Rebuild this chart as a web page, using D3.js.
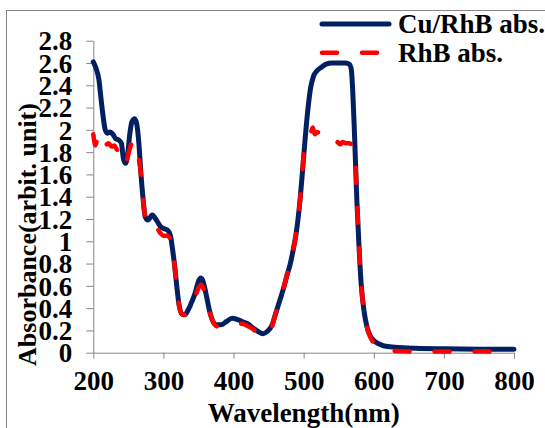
<!DOCTYPE html>
<html>
<head>
<meta charset="utf-8">
<script src="https://cdn.jsdelivr.net/npm/d3@7/dist/d3.min.js"></script>
<style>
  html, body { margin: 0; padding: 0; background: #fff; }
  svg { display: block; }
  text { font-family: "Liberation Serif", "Times New Roman", serif; font-weight: bold; fill: #000; }
</style>
</head>
<body>
<svg id="chart" width="545" height="428"></svg>
<script>
// ---- data ----
const seriesNames = ["Cu/RhB abs.", "RhB abs."];
const xTicks = [200, 300, 400, 500, 600, 700, 800];
const yTicks = [0, 0.2, 0.4, 0.6, 0.8, 1, 1.2, 1.4, 1.6, 1.8, 2, 2.2, 2.4, 2.6, 2.8];
const yTickLabels = ["0", "0.2", "0.4", "0.6", "0.8", "1", "1.2", "1.4", "1.6", "1.8", "2", "2.2", "2.4", "2.6", "2.8"];
const xLabel = "Wavelength(nm)";
const yLabel = "Absorbance(arbit. unit)";

const cuWavelength = [200, 204, 208, 211, 214, 217, 220, 224, 228, 232, 236, 240, 243, 246, 249, 252, 255, 259, 262, 265, 268, 271, 274, 278, 284, 290, 296, 302, 306, 310, 313, 316, 319, 322, 326, 330, 335, 340, 345, 350, 353, 356, 359, 362, 366, 370, 375, 382, 390, 398, 405, 412, 420, 428, 435, 442, 448, 455, 460, 466, 471, 476, 481, 485, 489, 492, 495, 498, 502, 506, 510, 514, 519, 525, 532, 540, 550, 560, 565, 568, 570, 572, 574, 576, 579, 582, 586, 590, 595, 600, 607, 615, 630, 660, 700, 750, 800];
const cuAbs = [2.61, 2.55, 2.45, 2.28, 2.12, 2.00, 1.97, 1.98, 1.96, 1.92, 1.91, 1.88, 1.74, 1.70, 1.78, 1.96, 2.07, 2.10, 2.05, 1.88, 1.60, 1.38, 1.22, 1.19, 1.235, 1.19, 1.13, 1.11, 1.10, 1.05, 0.93, 0.78, 0.60, 0.44, 0.35, 0.34, 0.38, 0.45, 0.53, 0.64, 0.67, 0.65, 0.58, 0.49, 0.37, 0.29, 0.25, 0.25, 0.28, 0.31, 0.30, 0.28, 0.26, 0.22, 0.19, 0.17, 0.19, 0.25, 0.35, 0.47, 0.57, 0.69, 0.80, 0.92, 1.06, 1.20, 1.38, 1.60, 1.91, 2.18, 2.38, 2.48, 2.53, 2.56, 2.59, 2.60, 2.60, 2.60, 2.59, 2.54, 2.35, 2.05, 1.70, 1.35, 0.95, 0.62, 0.38, 0.24, 0.15, 0.11, 0.08, 0.06, 0.05, 0.04, 0.035, 0.032, 0.03];

const rhbWavelength = [200, 203, 206, 210, 214, 218, 222, 226, 230, 234, 238, 242, 246, 250, 254, 258, 262, 265, 268, 271, 274, 278, 283, 290, 296, 300, 305, 310, 313, 316, 319, 322, 326, 330, 335, 340, 345, 350, 354, 358, 362, 366, 370, 375, 382, 390, 398, 405, 412, 420, 428, 435, 442, 448, 454, 460, 466, 471, 476, 481, 485, 489, 492, 495, 498, 500, 503, 507, 510, 513, 516, 519, 523, 527, 531, 536, 540, 544, 548, 552, 556, 560, 565, 569, 572, 574, 576, 579, 582, 586, 590, 595, 600, 607, 615, 630, 660, 700, 750, 800];
const rhbAbs = [1.96, 1.86, 1.92, 1.84, 1.81, 1.86, 1.88, 1.85, 1.86, 1.82, 1.84, 1.75, 1.70, 1.78, 1.87, 1.90, 1.86, 1.74, 1.60, 1.38, 1.22, 1.18, 1.20, 1.13, 1.07, 1.05, 1.05, 1.02, 0.93, 0.78, 0.60, 0.44, 0.35, 0.34, 0.37, 0.43, 0.50, 0.58, 0.61, 0.56, 0.47, 0.36, 0.29, 0.24, 0.23, 0.24, 0.26, 0.26, 0.26, 0.24, 0.21, 0.17, 0.15, 0.17, 0.22, 0.35, 0.47, 0.57, 0.69, 0.80, 0.92, 1.06, 1.20, 1.38, 1.60, 1.78, 1.90, 1.95, 1.97, 2.02, 1.96, 1.98, 1.96, 1.92, 1.91, 1.89, 1.90, 1.88, 1.89, 1.87, 1.89, 1.88, 1.88, 1.86, 1.80, 1.68, 1.38, 0.95, 0.62, 0.38, 0.24, 0.14, 0.09, 0.05, 0.03, 0.015, 0.01, 0.01, 0.01, 0.01];

// ---- layout ----
const svg = d3.select("#chart");
const plot = { left: 93.3, right: 514, top: 40.7, bottom: 352.7 };
const axisColor = "#878787";
const navy = "#002060";
const red = "#ff0000";
const fontSize = "27px";

const x = d3.scaleLinear().domain([200, 800]).range([plot.left, plot.right]);
const y = d3.scaleLinear().domain([0, 2.8]).range([plot.bottom, plot.top]);

// outer frame
svg.append("rect")
  .attr("x", 6.5).attr("y", 10.5)
  .attr("width", 600).attr("height", 500)
  .attr("fill", "none").attr("stroke", axisColor).attr("stroke-width", 1);

// y axis
const yAxis = svg.append("g")
  .attr("transform", `translate(${plot.left},0)`)
  .call(d3.axisLeft(y).tickValues(yTicks).tickSize(7).tickSizeOuter(0)
    .tickFormat((d, i) => yTickLabels[i]));
yAxis.select(".domain").attr("stroke", axisColor);
yAxis.selectAll(".tick line").attr("stroke", axisColor);
yAxis.selectAll(".tick text")
  .attr("x", -21).attr("dy", "0.34em")
  .style("font-family", '"Liberation Serif", serif').style("font-weight", "bold")
  .style("font-size", fontSize).attr("fill", "#000");

// x axis
const xAxis = svg.append("g")
  .attr("transform", `translate(0,${plot.bottom})`)
  .call(d3.axisBottom(x).tickValues(xTicks).tickSize(6).tickSizeOuter(0)
    .tickFormat(d3.format("d")));
xAxis.select(".domain").attr("stroke", axisColor);
xAxis.selectAll(".tick line").attr("stroke", axisColor);
xAxis.selectAll(".tick text")
  .attr("y", 37).attr("dy", "0")
  .style("font-family", '"Liberation Serif", serif').style("font-weight", "bold")
  .style("font-size", fontSize).attr("fill", "#000");

// lines
const line = d3.line()
  .x(d => x(d[0])).y(d => y(d[1]))
  .curve(d3.curveMonotoneX);

const cuData = cuWavelength.map((w, i) => [w, cuAbs[i]]);
const rhbData = rhbWavelength.map((w, i) => [w, rhbAbs[i]]);

svg.append("path").datum(cuData)
  .attr("d", line).attr("fill", "none")
  .attr("stroke", navy).attr("stroke-width", 5)
  .attr("stroke-linejoin", "round").attr("stroke-linecap", "round");

svg.append("path").datum(rhbData)
  .attr("d", line).attr("fill", "none")
  .attr("stroke", red).attr("stroke-width", 4.5)
  .attr("stroke-dasharray", "15 25")
  .attr("stroke-linejoin", "round").attr("stroke-linecap", "round");

// axis titles
svg.append("text")
  .attr("x", (plot.left + plot.right) / 2).attr("y", 422)
  .attr("text-anchor", "middle").style("font-size", fontSize)
  .text(xLabel);

svg.append("text")
  .attr("transform", "translate(36,234.5) rotate(-90)")
  .attr("text-anchor", "middle").style("font-size", "26px")
  .text(yLabel);

// legend
const legend = svg.append("g");
legend.append("line")
  .attr("x1", 322).attr("x2", 389).attr("y1", 24).attr("y2", 24)
  .attr("stroke", navy).attr("stroke-width", 5).attr("stroke-linecap", "round");
legend.append("text").attr("x", 398).attr("y", 33)
  .style("font-size", fontSize).text(seriesNames[0]);
legend.append("line")
  .attr("x1", 322).attr("x2", 380).attr("y1", 52.7).attr("y2", 52.7)
  .attr("stroke", red).attr("stroke-width", 4.5)
  .attr("stroke-dasharray", "15 25").attr("stroke-linecap", "round");
legend.append("text").attr("x", 398).attr("y", 62)
  .style("font-size", fontSize).text(seriesNames[1]);
</script>
</body>
</html>
